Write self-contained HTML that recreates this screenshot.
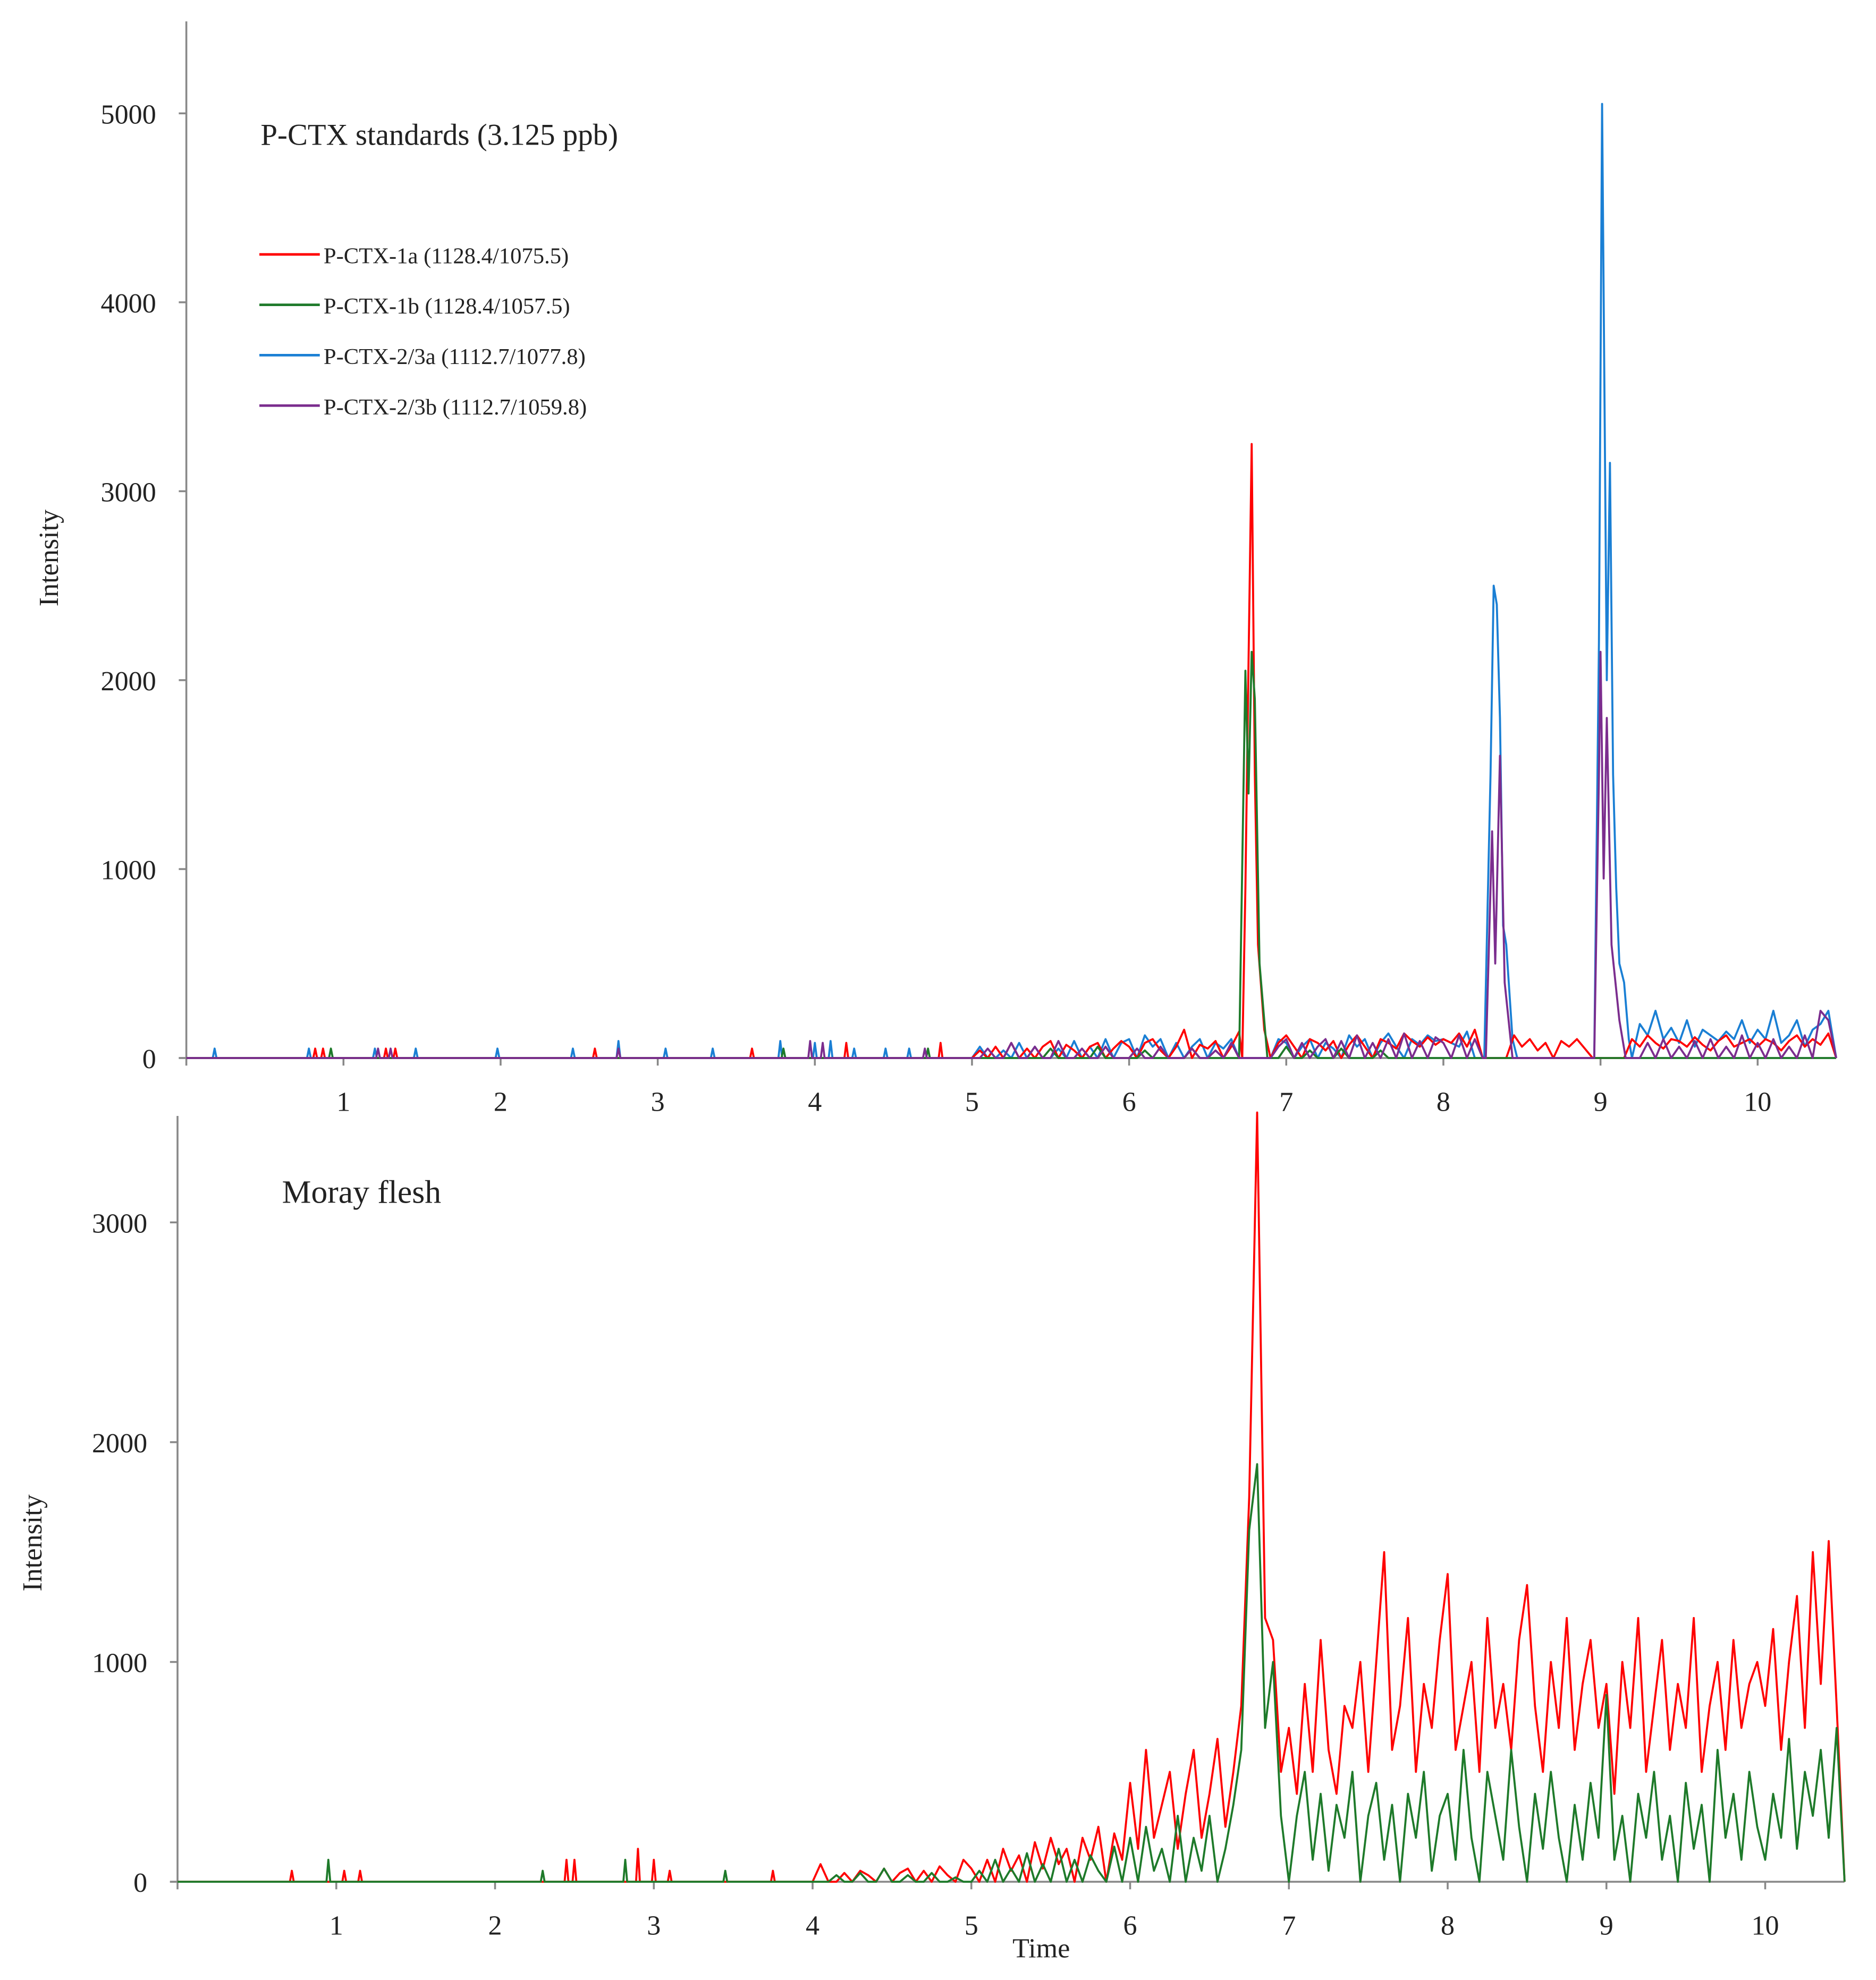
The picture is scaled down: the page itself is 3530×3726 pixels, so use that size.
<!DOCTYPE html>
<html><head><meta charset="utf-8"><style>
html,body{margin:0;padding:0;background:#fff}
svg{display:block}
text{font-family:"Liberation Serif",serif;fill:#222}
</style></head><body>
<svg id="chart" width="3530" height="3726" viewBox="0 0 1490 1572" preserveAspectRatio="none" xmlns="http://www.w3.org/2000/svg">
<g id="topg"></g>
<g id="botg"></g>
</svg>
<script>
// ---------- data ----------
const xTicks=[1,2,3,4,5,6,7,8,9,10];
const topYTicks=[0,1000,2000,3000,4000,5000];
const botYTicks=[0,1000,2000,3000];
const topNoiseStart=5.0, topNoiseStep=0.05;
const topRedNoise=[0,40,0,60,0,80,0,50,0,60,90,0,70,40,0,60,80,0,50,90,
60,0,80,100,40,0,60,150,0,70,50,90,0,60,140,0,0,0,0,80,
120,60,0,100,80,40,90,0,70,120,60,0,100,80,50,130,90,60,110,70,
100,80,130,60,150,0,0,0,0,120,60,100,40,80,0,90,60,100,50,0,
0,0,0,0,100,60,120,80,50,100,90,60,110,70,40,90,120,60,80,100,
60,100,80,40,90,120,60,100,70,130];
const topGreenNoise=[0,0,0,0,0,0,0,0,0,0,50,0,0,0,0,0,60,0,0,0,
0,0,40,0,0,0,0,0,50,0,0,0,0,0,40,0,0,0,0,0,
60,0,0,40,0,0,0,50,0,0,0,0,40,0,0,0,0,0,0,0,
0,0,0,0,0,0,0,0,0,0,0,0,0,0,0,0,0,0,0,0,
0,0,0,0,0,0,0,0,0,0,0,0,0,0,0,0,0,0,0,0,
0,0,0,0,0,0,0,0,0,0];
const topBlueNoise=[0,60,0,0,40,0,80,0,60,0,0,50,0,90,0,60,0,100,0,80,
100,0,120,60,100,0,80,0,60,100,0,80,50,100,0,0,0,0,0,100,
80,0,60,100,0,80,50,0,120,60,100,0,80,130,60,0,100,70,120,90,
100,80,60,140,0,0,0,0,0,0,120,90,130,60,100,80,120,60,250,0,
0,0,0,0,0,180,120,250,100,160,80,200,60,150,120,90,140,100,200,80,
150,100,250,80,120,200,60,150,180,250];
const topPurpleNoise=[0,0,50,0,0,80,0,0,60,0,0,90,0,0,50,0,0,60,0,0,
0,50,0,0,60,0,0,0,50,0,0,40,0,80,0,0,0,0,0,60,
100,0,80,0,60,100,0,90,0,120,0,80,0,100,0,130,0,90,0,110,
80,0,120,0,100,0,0,0,0,0,100,0,80,0,60,0,100,0,80,0,
0,0,0,0,0,0,80,0,100,0,60,0,90,0,100,0,60,0,120,0,
80,0,100,0,60,0,120,0,250,200];
const topRedPeak=[[6.72,0],[6.74,900],[6.76,2100],[6.78,3250],[6.80,1500],[6.82,600],[6.86,150],[6.9,0]];
const topGreenPeak=[[6.7,0],[6.74,2050],[6.76,1400],[6.78,2150],[6.8,1900],[6.83,500],[6.88,0]];
const topBluePeak=[[8.26,0],[8.3,1500],[8.32,2500],[8.34,2400],[8.36,1800],[8.38,700],[8.4,600],[8.44,100],[8.47,0],
[8.96,0],[8.99,2200],[9.01,5050],[9.04,2000],[9.06,3150],[9.08,1500],[9.1,900],[9.12,500],[9.15,400],[9.18,100],[9.2,0]];
const topPurplePeak=[[8.27,0],[8.31,1200],[8.33,500],[8.36,1600],[8.39,400],[8.44,0],
[8.96,0],[8.99,1500],[9.0,2150],[9.02,950],[9.04,1800],[9.07,600],[9.12,200],[9.16,0]];
const topRedSpikes=[[0.82,50],[0.87,50],[1.27,50],[1.33,50],[2.6,50],[3.6,50],[4.2,80],[4.8,80]];
const topGreenSpikes=[[0.92,50],[3.8,50],[4.72,50]];
const topBlueSpikes=[[0.18,50],[0.78,50],[1.2,50],[1.46,50],[1.98,50],[2.46,50],[2.75,90],[3.05,50],[3.35,50],[3.78,90],[4.0,80],[4.1,90],[4.25,50],[4.45,50],[4.6,50]];
const topPurpleSpikes=[[1.22,50],[1.3,50],[2.75,50],[3.97,90],[4.05,80],[4.7,50]];

const botNoiseStart=4.0, botNoiseStep=0.05;
const botRedNoise=[0,80,0,0,40,0,50,30,0,60,0,40,60,0,50,0,70,30,0,100,
60,0,100,0,150,50,120,0,180,60,200,80,150,0,200,100,250,0,220,100,
450,150,600,200,350,500,150,400,600,200,400,650,250,500,800,1750,3500,1200,1100,500,
700,400,900,500,1100,600,400,800,700,1000,500,1000,1500,600,800,1200,500,900,700,1100,
1400,600,800,1000,500,1200,700,900,600,1100,1350,800,500,1000,700,1200,600,900,1100,700,
900,400,1000,700,1200,500,800,1100,600,900,700,1200,500,800,1000,600,1100,700,900,1000,
800,1150,600,1000,1300,700,1500,900,1550,800];
const botGreenNoise=[0,0,0,30,0,0,40,0,0,60,0,0,30,0,0,40,0,0,20,0,
0,50,0,100,0,60,0,130,0,80,0,150,0,100,0,120,50,0,160,0,
200,0,250,50,150,0,300,0,200,50,300,0,150,350,600,1600,1900,700,1000,300,
0,300,500,100,400,50,350,200,500,0,300,450,100,350,0,400,200,500,50,300,
400,100,600,200,0,500,300,100,600,250,0,400,150,500,200,0,350,100,450,200,
850,100,300,0,400,200,500,100,300,0,450,150,350,0,600,200,400,100,500,250,
100,400,200,650,150,500,300,600,200,700];
const botRedSpikes=[[0.72,50],[1.05,50],[1.15,50],[2.45,100],[2.5,100],[2.9,150],[3.0,100],[3.1,50],[3.75,50]];
const botGreenSpikes=[[0.95,100],[2.3,50],[2.82,100],[3.45,50]];

const legendLabels=["P-CTX-1a (1128.4/1075.5)","P-CTX-1b (1128.4/1057.5)","P-CTX-2/3a (1112.7/1077.8)","P-CTX-2/3b (1112.7/1059.8)"];
const colors={red:"#ff0000",green:"#1e7a2a",blue:"#1a7fd4",purple:"#7b2d8e"};

// ---------- helpers ----------
const NS="http://www.w3.org/2000/svg";
function mk(tag,attrs,parent){const e=document.createElementNS(NS,tag);for(const k in attrs)e.setAttribute(k,attrs[k]);parent.appendChild(e);return e;}
function buildPoints(start,step,noise,peak,spikes,tEnd){
  let pts=[[0,0]];
  spikes.forEach(s=>{pts.push([s[0]-0.012,0],[s[0],s[1]],[s[0]+0.012,0]);});
  const groups=[];let g=[];peak.forEach((p,i)=>{if(i>0&&p[0]<peak[i-1][0]){groups.push(g);g=[];}g.push(p);});if(g.length)groups.push(g);
  noise.forEach((v,i)=>{const t=start+i*step;
    if(groups.some(gr=>t>=gr[0][0]&&t<=gr[gr.length-1][0]))return;
    pts.push([t,v]);});
  peak.forEach(p=>pts.push(p));
  pts.push([tEnd,0]);
  pts.sort((a,b)=>a[0]-b[0]);
  return pts;
}
function panel(g,cfg){
  const X=t=>cfg.x0+t*cfg.xs, Y=v=>cfg.y0-v*cfg.ys;
  let e;
  e=mk('line',{x1:cfg.x0,y1:cfg.yTop,x2:cfg.x0,y2:cfg.y0+6,stroke:'#888','stroke-width':1.5},g);
  
  
  e=mk('line',{x1:cfg.x0-6,y1:cfg.y0,x2:cfg.xEnd,y2:cfg.y0,stroke:'#888','stroke-width':1.5},g);
  
  
  xTicks.forEach(t=>{
    e=mk('line',{x1:X(t),y1:cfg.y0,x2:X(t),y2:cfg.y0+6,stroke:'#888','stroke-width':1.5},g);
    
    
    e=mk('text',{x:X(t),y:cfg.y0+42,'text-anchor':'middle','font-size':22},g);e.textContent=t;
    
    
  });
  cfg.yTicks.forEach(v=>{
    e=mk('line',{x1:cfg.x0-6,y1:Y(v),x2:cfg.x0,y2:Y(v),stroke:'#888','stroke-width':1.5},g);
    
    
    e=mk('text',{x:cfg.x0-24,y:Y(v)+8,'text-anchor':'end','font-size':22},g);e.textContent=v;
    
    
  });
  e=mk('text',{x:0,y:0,'text-anchor':'middle','font-size':22,transform:`translate(${cfg.ylx},${cfg.yly}) rotate(-90)`},g);e.textContent='Intensity';
  
  
  cfg.series.forEach(s=>{
    const pts=buildPoints(cfg.ns,cfg.nstep,s.noise,s.peak,s.spikes,10.5);
    const d=pts.map((p,i)=>(i?'L':'M')+X(p[0]).toFixed(2)+' '+Y(p[1]).toFixed(2)).join(' ');
    e=mk('path',{d:d,fill:'none',stroke:s.color,'stroke-width':1.6,'stroke-linejoin':'round'},g);
    
    
  });
}
const topPanel=document.getElementById('topg'), botPanel=document.getElementById('botg');
panel(topPanel,{x0:148,xs:124.8,xEnd:1458,y0:840,ys:0.15,yTop:17,yTicks:topYTicks,ylx:46,yly:443,ns:topNoiseStart,nstep:topNoiseStep,
 series:[
  {name:'series-p-ctx-2-3a',color:colors.blue,noise:topBlueNoise,peak:topBluePeak,spikes:topBlueSpikes},
  {name:'series-p-ctx-1a',color:colors.red,noise:topRedNoise,peak:topRedPeak,spikes:topRedSpikes},
  {name:'series-p-ctx-1b',color:colors.green,noise:topGreenNoise,peak:topGreenPeak,spikes:topGreenSpikes},
  {name:'series-p-ctx-2-3b',color:colors.purple,noise:topPurpleNoise,peak:topPurplePeak,spikes:topPurpleSpikes}]});
panel(botPanel,{x0:141,xs:126.1,xEnd:1465,y0:1494,ys:0.1745,yTop:886,yTicks:botYTicks,ylx:33,yly:1225,ns:botNoiseStart,nstep:botNoiseStep,
 series:[
  {name:'series-moray-p-ctx-1a',color:colors.red,noise:botRedNoise,peak:[],spikes:botRedSpikes},
  {name:'series-moray-p-ctx-1b',color:colors.green,noise:botGreenNoise,peak:[],spikes:botGreenSpikes}]});
let tt;
tt=mk('text',{x:207,y:115,'font-size':24},topPanel);tt.textContent='P-CTX standards (3.125 ppb)';


tt=mk('text',{x:224,y:955,'font-size':26},botPanel);tt.textContent='Moray flesh';


tt=mk('text',{x:827,y:1554,'text-anchor':'middle','font-size':22},botPanel);tt.textContent='Time';


const legCols=[colors.red,colors.green,colors.blue,colors.purple];
legendLabels.forEach((lab,i)=>{
  const y=202+i*40;
  let l=mk('line',{x1:206,y1:y,x2:254,y2:y,stroke:legCols[i],'stroke-width':2},topPanel);
  
  
  let tx=mk('text',{x:257,y:y+7,'font-size':18},topPanel);tx.textContent=lab;
  
  
});
</script>
</body></html>
